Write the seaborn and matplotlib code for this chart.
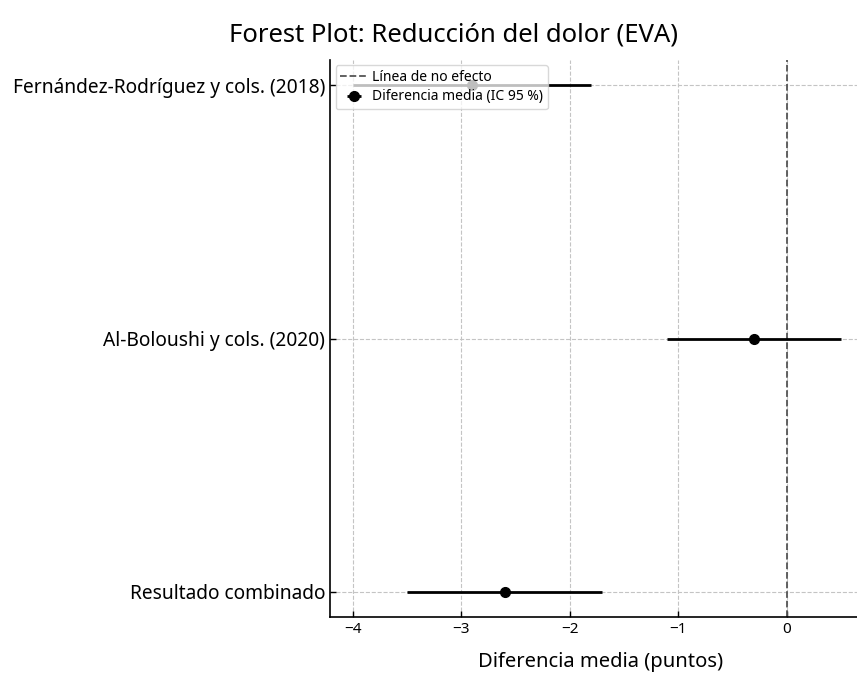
import numpy as np
import pandas as pd
import matplotlib.pyplot as plt
import seaborn as sns

# Datos del forest plot
estudios = ["Fernández-Rodríguez y cols. (2018)", "Al-Boloushi y cols. (2020)", "Resultado combinado"]
diferencia = [-2.9, -0.3, -2.6]
ic_inf = [-4.0, -1.1, -3.5]
ic_sup = [-1.8, 0.5, -1.7]

df = pd.DataFrame({"estudio": estudios, "md": diferencia, "lo": ic_inf, "hi": ic_sup})
df["pos"] = np.arange(len(df))

sns.set_style("ticks")
plt.rcParams["font.family"] = ["Noto Sans", "DejaVu Sans"]
plt.rcParams["text.color"] = "black"
plt.rcParams["axes.labelcolor"] = "black"
plt.rcParams["xtick.color"] = "black"
plt.rcParams["ytick.color"] = "black"
plt.rcParams["axes.edgecolor"] = "black"

fig, ax = plt.subplots(figsize=(8.57, 6.73), dpi=100)

# Línea de no efecto y diferencias medias con IC
ax.axvline(0, color="#555555", linestyle="--", linewidth=1.3, label="Línea de no efecto")
ax.errorbar(df["md"], df["pos"], xerr=[df["md"] - df["lo"], df["hi"] - df["md"]],
            fmt="o", color="black", elinewidth=2, markersize=7, capsize=0,
            label="Diferencia media (IC 95 %)", zorder=3)

ax.legend(loc="upper left", fontsize=10, borderaxespad=0.4, framealpha=0.75,
          labelspacing=0.3, borderpad=0.35, handletextpad=0.3)

ax.set_yticks(df["pos"])
ax.set_yticklabels(df["estudio"], fontsize=13.8)
ax.set_ylim(2.1, -0.1)
ax.set_xlim(-4.21, 0.65)
ax.set_xticks([-4, -3, -2, -1, 0])
ax.set_xticklabels(["\u22124", "\u22123", "\u22122", "\u22121", "0"], fontsize=11)
ax.tick_params(direction="in", length=4.5, width=1)
ax.grid(True, linestyle="--", color="#c4c4c4", linewidth=0.8)
sns.despine(ax=ax)
for s in ["left", "bottom"]:
    ax.spines[s].set_linewidth(1.2)

ax.set_xlabel("Diferencia media (puntos)", fontsize=14.5)
ax.xaxis.set_label_coords(0.514, -0.062)
ax.set_ylabel("")
fig.text(0.529, 0.948, "Forest Plot: Reducción del dolor (EVA)", fontsize=18.5,
         ha="center", va="center")

plt.subplots_adjust(left=0.385, right=1.0, top=0.911, bottom=0.083)
plt.savefig("out.png", dpi=100)
